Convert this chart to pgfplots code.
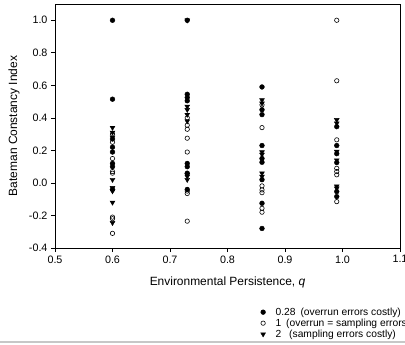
\documentclass[border=0pt]{standalone}
\usepackage{fontspec}
\setmainfont{Liberation Sans}
\usepackage{pgfplots}
\pgfplotsset{compat=1.18}
\begin{document}
\begin{tikzpicture}
\useasboundingbox (-55bp,-97bp) rectangle (350bp,248bp);
\begin{axis}[
  at={(0,0)}, anchor=south west,
  scale only axis, width=345bp, height=244bp,
  xmin=0.5, xmax=1.1, ymin=-0.4, ymax=1.1,
  xtick={0.5,0.6,0.7,0.8,0.9,1.0,1.1},
  ytick={-0.4,-0.2,0,0.2,0.4,0.6,0.8,1.0},
  tick align=outside, xtick pos=bottom, ytick pos=left,
  major tick length=4bp,
  tick style={black, line width=0.7bp},
  axis line style={line width=0.8bp},
  xticklabel style={/pgf/number format/.cd, fixed, fixed zerofill, precision=1, assume math mode=true},
  yticklabel style={/pgf/number format/.cd, fixed, fixed zerofill, precision=1, assume math mode=true},
  tick label style={font=\fontsize{10.8}{12}\selectfont},
  xlabel={Environmental Persistence, \textit{q}},
  ylabel={Bateman Constancy Index},
  label style={font=\fontsize{12}{14}\selectfont},
  xlabel style={at={(axis description cs:0.5,-0.143)}, anchor=center},
  ylabel style={at={(axis description cs:-0.119,0.5)}, anchor=center},
  legend style={at={(0.587,-0.2275)}, anchor=north west, draw=none, fill=none,
    font=\fontsize{10.3}{11}\selectfont, row sep=-1.9bp},
  legend cell align=left,
]
\addplot[only marks, mark=*, mark size=2.4bp, mark options={fill=black, draw=black}] coordinates {
(0.6,1.0) (0.6,0.515) (0.6,0.27) (0.6,0.22) (0.6,0.19) (0.6,0.12) (0.6,0.10) (0.6,-0.04)
(0.73,1.0) (0.73,0.545) (0.73,0.525) (0.73,0.505) (0.73,0.12) (0.73,0.10) (0.73,0.06) (0.73,-0.04)
(0.86,0.59) (0.86,0.45) (0.86,0.42) (0.86,0.23) (0.86,0.15) (0.86,0.127) (0.86,0.02) (0.86,-0.125) (0.86,-0.28)
(0.99,0.346) (0.99,0.23) (0.99,0.18) (0.99,0.125) (0.99,-0.053) (0.99,-0.084)
};
\addlegendentry{\hspace{8bp}0.28\hspace{5bp}(overrun errors costly)}
\addplot[only marks, mark=o, mark size=2.2bp, mark options={fill=white, draw=black, line width=0.6bp}] coordinates {
(0.6,0.30) (0.6,0.25) (0.6,0.15) (0.6,0.07) (0.6,0.06) (0.6,-0.21) (0.6,-0.22) (0.6,-0.31)
(0.73,0.40) (0.73,0.355) (0.73,0.33) (0.73,0.275) (0.73,0.19) (0.73,-0.05) (0.73,-0.065) (0.73,-0.235)
(0.86,0.48) (0.86,0.34) (0.86,-0.018) (0.86,-0.043) (0.86,-0.06) (0.86,-0.156) (0.86,-0.18)
(0.99,1.0) (0.99,0.628) (0.99,0.265) (0.99,0.09) (0.99,0.07) (0.99,0.05) (0.99,-0.115)
};
\addlegendentry{\hspace{8bp}1\hspace{5bp}(overrun = sampling errors costly)}
\addplot[only marks, mark=triangle*, mark size=2.8bp, mark options={rotate=180, fill=black, draw=black}] coordinates {
(0.6,0.34) (0.6,0.31) (0.6,0.28) (0.6,0.02) (0.6,-0.03) (0.6,-0.05) (0.6,-0.12) (0.6,-0.245)
(0.73,1.0) (0.73,0.47) (0.73,0.45) (0.73,0.42) (0.73,0.38) (0.73,0.05) (0.73,0.04) (0.73,0.02)
(0.86,0.51) (0.86,0.49) (0.86,0.19) (0.86,0.175) (0.86,0.06) (0.86,0.04)
(0.99,0.388) (0.99,0.367) (0.99,0.193) (0.99,0.14) (0.99,-0.033) (0.99,-0.02)
};
\addlegendentry{\hspace{8bp}2\hspace{8bp}(sampling errors costly)}
\end{axis}
\draw[line width=1.5bp, black!22] (-55bp,-94bp) -- (350bp,-94bp);
\end{tikzpicture}
\end{document}
